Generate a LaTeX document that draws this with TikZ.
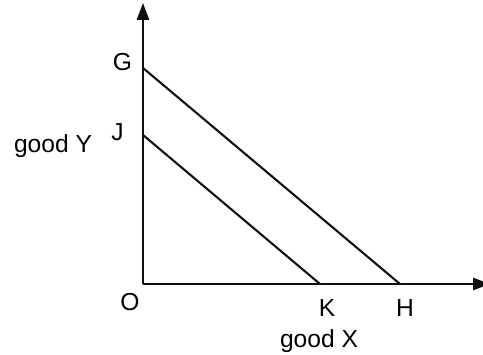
\documentclass[tikz,border=0pt]{standalone}
\usepackage{fontspec}
\setmainfont{Liberation Sans}
\usepackage{tikz}
\usetikzlibrary{arrows.meta, positioning}
\definecolor{inkline}{HTML}{111111}
\tikzset{
  axisline/.style={inkline, line width=1.6pt, -{Triangle[length=0.42cm,width=0.3cm]}},
  budget/.style={inkline, line width=1.5pt},
  lbl/.style={font=\fontsize{17.5}{20}\selectfont, inner sep=0pt, anchor=base}
}

\begin{document}
\begin{tikzpicture}[x=0.025cm, y=0.025cm]
      \useasboundingbox (0,0) rectangle (483,355);
      % axes
      \coordinate (O) at (143,71);
      \coordinate (ytip) at (143,352);
      \coordinate (xtip) at (490,71);
      \draw[axisline] (O) -- (ytip);
      \draw[axisline] (O) -- (xtip);
      % budget lines
      \coordinate (G) at (143,287);
      \coordinate (H) at (400,71);
      \coordinate (J) at (143,220);
      \coordinate (K) at (320,71);
      \draw[budget] (G) -- (H);
      \draw[budget] (J) -- (K);
      % labels
      \node[lbl] (Glbl) at (122.5,284) {G};
      \node[lbl] (Jlbl) at (117.5,214) {J};
      \node[lbl] (ylbl) at (53,202) {good Y};
      \node[lbl] (Olbl) at (130,44) {O};
      \node[lbl] (Klbl) at (327,38) {K};
      \node[lbl] (Hlbl) at (405,38) {H};
      \node[lbl] (xlbl) at (319,7) {good X};
    \end{tikzpicture}
\end{document}
